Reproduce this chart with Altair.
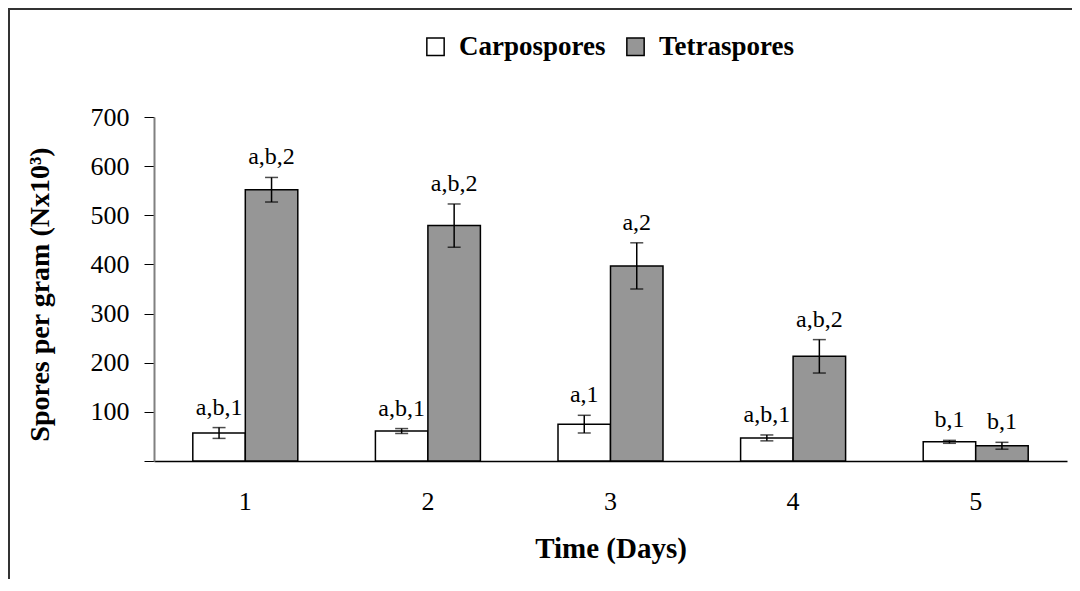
import altair as alt
import pandas as pd

days = ["1", "2", "3", "4", "5"]
series = ["Carpospores", "Tetraspores"]
carpo = [57, 61, 75, 47, 39]
carpo_err = [11, 5, 18, 6, 3]
tetra = [552, 479, 397, 213, 31]
tetra_err = [25, 44, 47, 34, 7]
carpo_lbl = ["a,b,1", "a,b,1", "a,1", "a,b,1", "b,1"]
tetra_lbl = ["a,b,2", "a,b,2", "a,2", "a,b,2", "b,1"]
y_ticks = [0, 100, 200, 300, 400, 500, 600, 700]

rows = []
for i, d in enumerate(days):
    rows.append({"day": d, "series": series[0], "value": carpo[i],
                 "lo": carpo[i] - carpo_err[i], "hi": carpo[i] + carpo_err[i], "lbl": carpo_lbl[i]})
    rows.append({"day": d, "series": series[1], "value": tetra[i],
                 "lo": tetra[i] - tetra_err[i], "hi": tetra[i] + tetra_err[i], "lbl": tetra_lbl[i]})
df = pd.DataFrame(rows)

FONT = "Liberation Serif"

x_enc = alt.X("day:N", sort=days,
              scale=alt.Scale(paddingInner=0.425, paddingOuter=0.2125),
              axis=alt.Axis(title="Time (Days)", labelAngle=0, ticks=False, tickSize=0,
                            labelPadding=27, labelFontSize=26, labelFont=FONT,
                            labelColor="black", domainColor="black", domainWidth=1.5,
                            titleFont=FONT, titleFontSize=29, titleFontWeight="bold",
                            titleColor="black", titleY=87, titleBaseline="middle"))
xo_enc = alt.XOffset("series:N", sort=series,
                     scale=alt.Scale(domain=series, paddingInner=0, paddingOuter=0))
y_scale = alt.Scale(domain=[0, 700], nice=False)

base = alt.Chart(df)

bars = base.mark_bar(stroke="black", strokeWidth=1.5).encode(
    x=x_enc,
    xOffset=xo_enc,
    y=alt.Y("value:Q", scale=y_scale,
            axis=alt.Axis(values=y_ticks, title="Spores per gram (Nx10³)",
                          labelExpr="datum.value == 0 ? '' : datum.label",
                          grid=False, tickSize=10, tickColor="black", tickWidth=1,
                          domainColor="#808080", domainWidth=2,
                          labelFont=FONT, labelFontSize=26, labelColor="black",
                          labelPadding=15,
                          titleFont=FONT, titleFontSize=28, titleFontWeight="bold",
                          titleColor="black", titleAngle=270, titleX=-114, titleY=177,
                          titleAlign="center", titleBaseline="middle")),
    fill=alt.Fill("series:N", sort=series,
                  scale=alt.Scale(domain=series, range=["#ffffff", "#969696"]),
                  legend=alt.Legend(title=None, orient="none", direction="horizontal",
                                    legendX=268, legendY=-84,
                                    symbolType="square", symbolSize=300,
                                    symbolStrokeColor="black", symbolStrokeWidth=1.5,
                                    labelFont=FONT, labelFontSize=27, labelFontWeight="bold",
                                    labelColor="black", labelOffset=10, columnPadding=16)),
)

err = base.mark_rule(color="black", strokeWidth=1.5).encode(
    x=alt.X("day:N", sort=days), xOffset=xo_enc,
    y=alt.Y("lo:Q", scale=y_scale), y2="hi:Q")

cap_hi = base.mark_tick(color="black", size=13, thickness=1.5).encode(
    x=alt.X("day:N", sort=days), xOffset=xo_enc, y=alt.Y("hi:Q", scale=y_scale))
cap_lo = base.mark_tick(color="black", size=13, thickness=1.5).encode(
    x=alt.X("day:N", sort=days), xOffset=xo_enc, y=alt.Y("lo:Q", scale=y_scale))

labels = base.mark_text(font=FONT, fontSize=24, color="black",
                        baseline="alphabetic", dy=-13).encode(
    x=alt.X("day:N", sort=days), xOffset=xo_enc,
    y=alt.Y("hi:Q", scale=y_scale), text="lbl:N")

frame_df = pd.DataFrame({"k": [0]})
frame_left = alt.Chart(frame_df).mark_rule(color="#333333", strokeWidth=2).encode(
    x=alt.value(-145), y=alt.value(-108), y2=alt.value(470))
frame_top = alt.Chart(frame_df).mark_rule(color="#333333", strokeWidth=2).encode(
    x=alt.value(-146), x2=alt.value(930), y=alt.value(-108))

chart = alt.layer(bars, err, cap_hi, cap_lo, labels, frame_left, frame_top).properties(
    width=913, height=344,
    padding={"left": 146, "top": 109, "right": 5, "bottom": 118},
    autosize=alt.AutoSizeParams(type="none"),
).configure(
    font=FONT,
    view=alt.ViewConfig(stroke=None),
    legend=alt.LegendConfig(labelFont=FONT, labelFontWeight="bold"),
)

chart.save("out.html", embed_options={"renderer": "svg", "actions": False})
